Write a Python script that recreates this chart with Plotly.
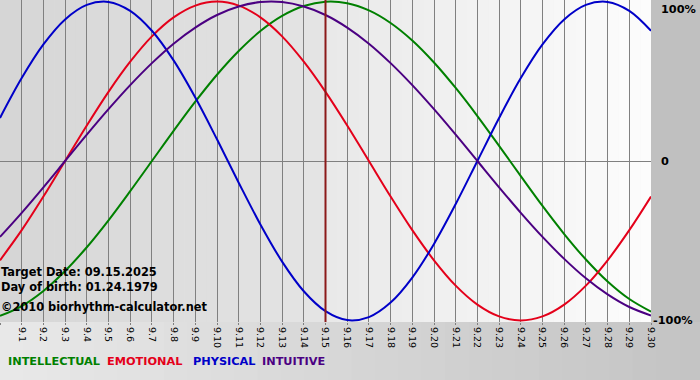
import plotly.graph_objects as go

days = ["8.31"] + [f"9.{d}" for d in range(1, 31)]

intellectual = [-0.972, -0.910, -0.815, -0.690, -0.541, -0.372, -0.189, 0.000, 0.189, 0.372,
                0.541, 0.690, 0.815, 0.910, 0.972, 0.999, 0.990, 0.945, 0.866, 0.756,
                0.618, 0.458, 0.282, 0.095, -0.095, -0.282, -0.458, -0.618, -0.756, -0.866, -0.945]
emotional = [-0.623, -0.434, -0.223, 0.000, 0.223, 0.434, 0.623, 0.782, 0.901, 0.975,
             1.000, 0.975, 0.901, 0.782, 0.623, 0.434, 0.223, 0.000, -0.223, -0.434,
             -0.623, -0.782, -0.901, -0.975, -1.000, -0.975, -0.901, -0.782, -0.623, -0.434, -0.223]
physical = [0.270, 0.520, 0.731, 0.888, 0.979, 0.998, 0.942, 0.817, 0.631, 0.398,
            0.136, -0.136, -0.398, -0.631, -0.817, -0.942, -0.998, -0.979, -0.888, -0.731,
            -0.520, -0.270, 0.000, 0.270, 0.520, 0.731, 0.888, 0.979, 0.998, 0.942, 0.817]
intuitive = [-0.476, -0.325, -0.165, 0.000, 0.165, 0.325, 0.476, 0.614, 0.736, 0.837,
             0.916, 0.969, 0.997, 0.997, 0.969, 0.916, 0.837, 0.736, 0.614, 0.476,
             0.325, 0.165, 0.000, -0.165, -0.325, -0.476, -0.614, -0.736, -0.837, -0.916, -0.969]

series_names = ["INTELLECTUAL", "EMOTIONAL", "PHYSICAL", "INTUITIVE"]
series_colors = ["#008000", "#e4001a", "#0000c8", "#4b0082"]
target_index = 15
y_labels = ["100%", "0", "-100%"]
info_lines = ["Target Date: 09.15.2025", "Day of birth: 01.24.1979", "©2010 biorhythm-calculator.net"]

x = list(range(len(days)))
FONT = "DejaVu Sans"

fig = go.Figure()
for name, vals, col in zip(series_names, [intellectual, emotional, physical, intuitive], series_colors):
    fig.add_trace(go.Scatter(x=x, y=vals, mode="lines", name=name,
                             line=dict(color=col, width=2, shape="spline", smoothing=1.0),
                             hoverinfo="skip"))

def hexmix(c1, c2, t):
    a = [int(c1[i:i + 2], 16) for i in (1, 3, 5)]
    b = [int(c2[i:i + 2], 16) for i in (1, 3, 5)]
    return "#" + "".join(f"{round(a[k] + (b[k] - a[k]) * t):02x}" for k in range(3))

shapes = []
N = 30
for i in range(N):
    x0 = target_index * i / N
    x1 = target_index * (i + 1) / N
    shapes.append(dict(type="rect", xref="x", yref="paper", x0=x0, x1=x1 + 0.02, y0=0, y1=1,
                       fillcolor=hexmix("#d6d6d6", "#e4e4e4", i / (N - 1)), line_width=0, layer="below"))
    x0 = target_index + (30 - target_index) * i / N
    x1 = target_index + (30 - target_index) * (i + 1) / N
    shapes.append(dict(type="rect", xref="x", yref="paper", x0=x0, x1=x1 + 0.02, y0=0, y1=1,
                       fillcolor=hexmix("#e9e9e9", "#fcfcfc", i / (N - 1)), line_width=0, layer="below"))
for i in range(N):
    shapes.append(dict(type="rect", xref="paper", yref="paper", x0=i / N * 1.08, x1=(i + 1) / N * 1.08 + 0.003,
                       y0=-0.19, y1=0, fillcolor=hexmix("#e8e8e8", "#c4c4c4", i / (N - 1)),
                       line_width=0, layer="below"))
shapes.append(dict(type="line", xref="x", yref="paper", x0=target_index, x1=target_index, y0=0, y1=1,
                   line=dict(color="#8b1a1a", width=2), layer="above"))

annotations = []
for txt, yv, xs, ya in zip(y_labels, [1, 0, -1], [8, 8, 0], ["top", "middle", "middle"]):
    annotations.append(dict(text=f"<b>{txt}</b>", xref="paper", yref="y", x=1, y=yv, xanchor="left",
                            yanchor=ya, xshift=xs, yshift=1 if ya == "top" else 0, showarrow=False,
                            font=dict(family=FONT, size=11.3, color="#000000")))
for txt, ypx in zip(info_lines, [272, 287, 307]):
    annotations.append(dict(text=f"<b>{txt}</b>", xref="paper", yref="paper", x=0, y=1, xanchor="left",
                            yanchor="middle", xshift=-1, yshift=-ypx, showarrow=False,
                            font=dict(family=FONT, size=11.4, color="#000000")))
leg_x = [6, 105, 191, 260]
for name, col, lx in zip(series_names, series_colors, leg_x):
    annotations.append(dict(text=f"<b>{name}</b>", xref="paper", yref="paper", x=0, y=0, xanchor="left",
                            yanchor="middle", xshift=lx, yshift=-39, showarrow=False,
                            font=dict(family=FONT, size=11.3, color=col)))

fig.update_layout(
    width=700, height=380,
    margin=dict(l=0, r=49, t=0, b=58, pad=0),
    paper_bgcolor="#c0c0c0", plot_bgcolor="#e0e0e0",
    showlegend=False,
    shapes=shapes, annotations=annotations,
    xaxis=dict(range=[0, 30], tickmode="array", tickvals=x, ticktext=days, tickangle=90,
               showgrid=True, gridcolor="#808080", gridwidth=1, zeroline=False,
               ticks="outside", ticklen=2, tickcolor="#808080", automargin=False,
               tickfont=dict(family=FONT, size=9.5, color="#000000"), showline=False),
    yaxis=dict(range=[-1.01, 1.01], tickmode="array", tickvals=[0], showticklabels=False,
               automargin=False,
               showgrid=True, gridcolor="#808080", gridwidth=1, zeroline=False, showline=False),
)
fig.write_html("out.html", config={"displayModeBar": False},
               post_script="document.body.style.margin='0';document.body.style.overflow='hidden';")
